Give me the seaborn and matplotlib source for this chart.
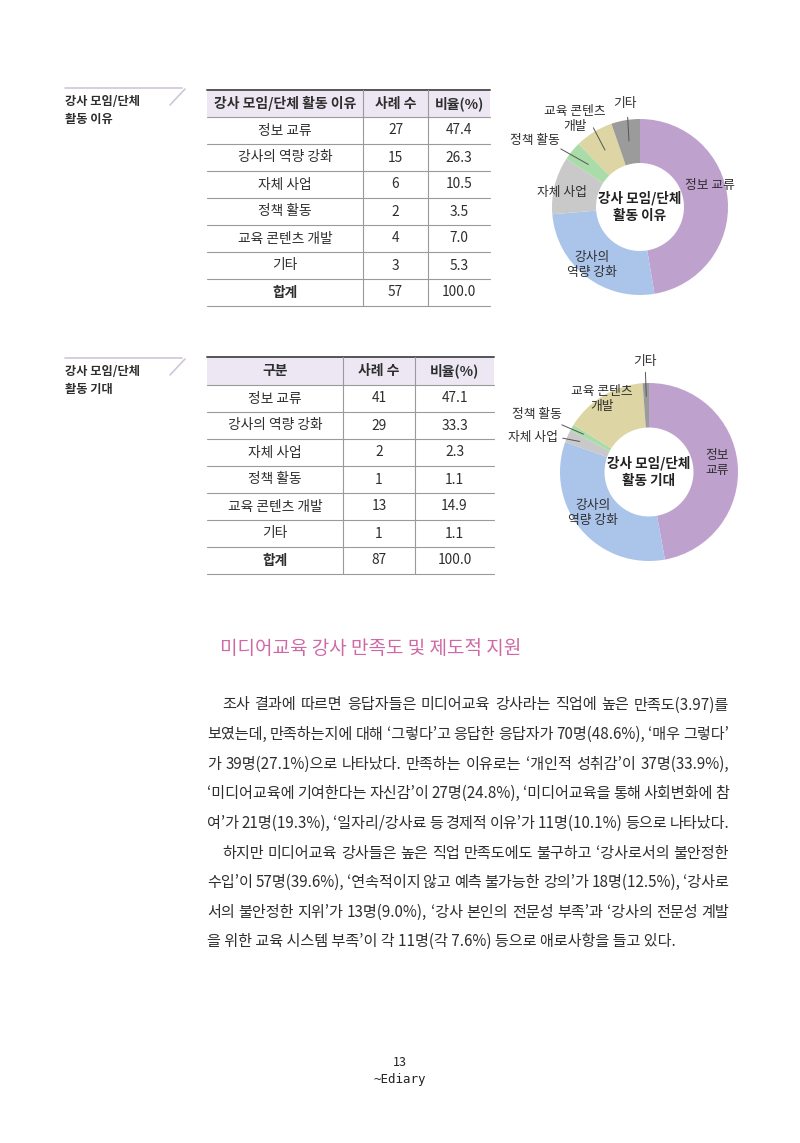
import matplotlib
matplotlib.use("Agg")
import numpy as np
import matplotlib.pyplot as plt
import seaborn as sns
from matplotlib.patches import Rectangle

# data
categories = ['정보 교류', '강사의 역량 강화', '자체 사업', '정책 활동', '교육 콘텐츠 개발', '기타']
reason_counts = [27, 15, 6, 2, 4, 3]
reason_pct = [47.4, 26.3, 10.5, 3.5, 7.0, 5.3]
expect_counts = [41, 29, 2, 1, 13, 1]
expect_pct = [47.1, 33.3, 2.3, 1.1, 14.9, 1.1]
donut_labels_reason = ['정보 교류', '강사의\n역량 강화', '자체 사업', '정책 활동', '교육 콘텐츠\n개발', '기타']
donut_labels_expect = ['정보\n교류', '강사의\n역량 강화', '자체 사업', '정책 활동', '교육 콘텐츠\n개발', '기타']
table_headers_reason = ['강사 모임/단체 활동 이유', '사례 수', '비율(%)']
table_headers_expect = ['구분', '사례 수', '비율(%)']
total_label = '합계'
section_title = '미디어교육 강사 만족도 및 제도적 지원'
body_lines = [
    '조사 결과에 따르면 응답자들은 미디어교육 강사라는 직업에 높은 만족도(3.97)를',
    '보였는데, 만족하는지에 대해 ‘그렇다’고 응답한 응답자가 70명(48.6%), ‘매우 그렇다’',
    '가 39명(27.1%)으로 나타났다. 만족하는 이유로는 ‘개인적 성취감’이 37명(33.9%),',
    '‘미디어교육에 기여한다는 자신감’이 27명(24.8%), ‘미디어교육을 통해 사회변화에 참',
    '여’가 21명(19.3%), ‘일자리/강사료 등 경제적 이유’가 11명(10.1%) 등으로 나타났다.',
    '하지만 미디어교육 강사들은 높은 직업 만족도에도 불구하고 ‘강사로서의 불안정한',
    '수입’이 57명(39.6%), ‘연속적이지 않고 예측 불가능한 강의’가 18명(12.5%), ‘강사로',
    '서의 불안정한 지위’가 13명(9.0%), ‘강사 본인의 전문성 부족’과 ‘강사의 전문성 계발',
    '을 위한 교육 시스템 부족’이 각 11명(각 7.6%) 등으로 애로사항을 들고 있다.',
]
indent_lines = [0, 5]
ragged_lines = [8]

sns.set_theme(style="white")
FAM = ['Noto Sans CJK KR', 'DejaVu Sans']
plt.rcParams['font.family'] = FAM

W, H = 800, 1143
TXT = '#2E2E2E'
HEAD = '#ECE7F3'
GRID = '#9A9A9A'
DECO = '#CFC6DA'
PINK = '#CF68A4'
colors = sns.color_palette(['#BFA1CE', '#AAC4EA', '#C9C9C9', '#A9DCA9', '#DDD5A3', '#9B9B9B'])

fig = plt.figure(figsize=(W / 100, H / 100), dpi=100, facecolor='white')
page = fig.add_axes([0, 0, 1, 1])
page.set_xlim(0, W)
page.set_ylim(H, 0)
page.axis('off')


def side_label(y0, text):
    page.plot([65, 182], [y0, y0], color=DECO, lw=1.2)
    page.plot([185, 170], [y0 + 1, y0 + 17], color=DECO, lw=1.2)
    page.text(65, y0 + 7, text, fontsize=8.8, fontweight='bold', color=TXT,
              va='top', ha='left', linespacing=1.5)


def draw_table(top, edges, header_h, row_h, headers, counts, pcts):
    left, right = edges[0], edges[-1]
    page.add_patch(Rectangle((left, top), right - left, header_h, fc=HEAD, ec='none'))
    page.plot([left, right], [top, top], color='#555555', lw=1.4)
    rows = [(c, str(n), f'{p:.1f}') for c, n, p in zip(categories, counts, pcts)]
    rows.append((total_label, str(sum(counts)), f'{100 * sum(counts) / sum(counts):.1f}'))
    centers = [(edges[i] + edges[i + 1]) / 2 for i in range(3)]
    for j, h in enumerate(headers):
        page.text(centers[j], top + header_h / 2, h, fontsize=10.0, fontweight='bold',
                  color=TXT, ha='center', va='center')
    y = top + header_h
    page.plot([left, right], [y, y], color=GRID, lw=0.8)
    for i, row in enumerate(rows):
        for j, val in enumerate(row):
            bold = (i == len(rows) - 1 and j == 0)
            page.text(centers[j], y + row_h / 2, val, fontsize=9.9,
                      fontweight='bold' if bold else 'normal',
                      color=TXT, ha='center', va='center')
        y += row_h
        page.plot([left, right], [y, y], color=GRID, lw=0.8)
    for x in edges[1:-1]:
        page.plot([x, x], [top, y], color=GRID, lw=0.8)


def draw_donut(cx, cy, R, counts, labels, label_xy, leaders, center_text, leader_r):
    size = 2.5 * R
    ax = fig.add_axes([(cx - size / 2) / W, 1 - (cy + size / 2) / H, size / W, size / H])
    ax.pie(counts, colors=colors, startangle=90, counterclock=False, radius=1,
           wedgeprops=dict(width=0.5, edgecolor='none'))
    ax.set_xlim(-1.25, 1.25)
    ax.set_ylim(-1.25, 1.25)
    ax.set_aspect('equal')
    ax.axis('off')
    frac = np.array(counts, dtype=float) / sum(counts)
    mids = np.cumsum(frac) - frac / 2
    ang = np.deg2rad(90 - 360 * mids)
    for i, lab in enumerate(labels):
        lx, ly = label_xy[i]
        ax.text(lx, ly, lab, fontsize=9.2, color=TXT, ha='center', va='center',
                linespacing=1.15, clip_on=False)
        if i in leaders:
            sx, sy = leaders[i]
            ex, ey = leader_r * np.cos(ang[i]), leader_r * np.sin(ang[i])
            ax.plot([sx, ex], [sy, ey], color='#555555', lw=0.7, clip_on=False)
    ax.text(0, 0, center_text, fontsize=9.8, fontweight='bold', color='#222222',
            ha='center', va='center', linespacing=1.35)


# section 1
side_label(88, '강사 모임/단체\n활동 이유')
draw_table(90, [207, 363, 428, 490], 27, 27, table_headers_reason, reason_counts, reason_pct)
draw_donut(640, 207, 88, reason_counts, donut_labels_reason,
           [(0.80, 0.25), (-0.55, -0.66), (-0.89, 0.16), (-1.19, 0.76), (-0.74, 1.00), (-0.17, 1.18)],
           {3: (-0.90, 0.66), 4: (-0.53, 0.90), 5: (-0.14, 1.02)},
           '강사 모임/단체\n활동 이유', 0.76)

# section 2
side_label(358, '강사 모임/단체\n활동 기대')
draw_table(357, [207, 343, 415, 494], 28, 27, table_headers_expect, expect_counts, expect_pct)
draw_donut(649, 472, 89, expect_counts, donut_labels_expect,
           [(0.76, 0.10), (-0.63, -0.46), (-1.30, 0.39), (-1.26, 0.65), (-0.53, 0.82), (-0.05, 1.24)],
           {2: (-0.97, 0.38), 3: (-0.98, 0.53), 5: (-0.04, 1.12)},
           '강사 모임/단체\n활동 기대', 0.85)

# title
page.text(220, 648, section_title, fontsize=13.7, color=PINK, fontweight='medium',
          ha='left', va='center')

# body text, justified
FS = 10.9
renderer = fig.canvas.get_renderer()


def text_w(s):
    t = page.text(0, 0, s, fontsize=FS)
    w = t.get_window_extent(renderer).width
    t.remove()
    return w


right_edge = 729
y = 705
for i, line in enumerate(body_lines):
    x0 = 222 if i in indent_lines else 207
    if i in ragged_lines:
        page.text(x0, y, line, fontsize=FS, color=TXT, ha='left', va='center')
    else:
        words = line.split(' ')
        widths = [text_w(w) for w in words]
        gap = (right_edge - x0 - sum(widths)) / (len(words) - 1)
        x = x0
        for w, wd in zip(words, widths):
            page.text(x, y, w, fontsize=FS, color=TXT, ha='left', va='center')
            x += wd + gap
    y += 29.6

# footer
page.text(400, 1062, '13', fontsize=9, color='#222222', ha='center', va='center')
page.text(400, 1080, '~Ediary', fontsize=9, color='#222222', ha='center', va='center',
          family='DejaVu Sans Mono')

fig.savefig('out.png', dpi=100, facecolor='white')
